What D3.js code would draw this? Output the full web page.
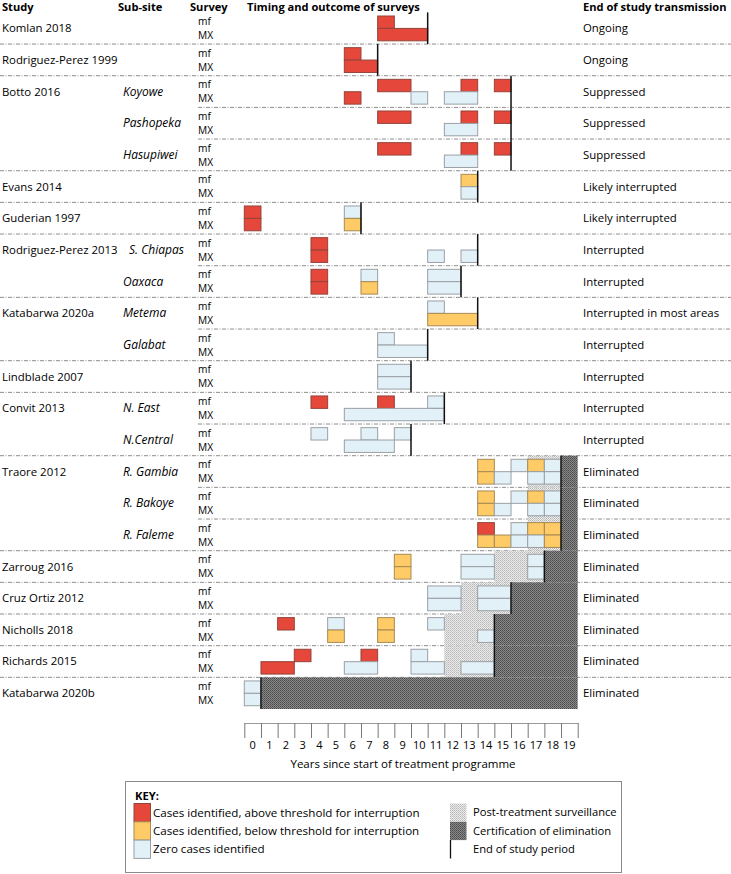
<!DOCTYPE html>
<html><head><meta charset="utf-8">
<script src="https://cdn.jsdelivr.net/npm/d3@7"></script>
<style>
html,body{margin:0;padding:0;background:#fff;}
svg{display:block;font-family:"Open Sans",sans-serif;}
</style></head>
<body><div id="chart"></div>
<script>
// ---------- DATA ----------
const studyLabels = ["Komlan 2018","Rodriguez-Perez 1999","Botto 2016","","","Evans 2014","Guderian 1997","Rodriguez-Perez 2013","","Katabarwa 2020a","","Lindblade 2007","Convit 2013","","Traore 2012","","","Zarroug 2016","Cruz Ortiz 2012","Nicholls 2018","Richards 2015","Katabarwa 2020b"];
const subSites = ["","","Koyowe","Pashopeka","Hasupiwei","","","S. Chiapas","Oaxaca","Metema","Galabat","","N. East","N.Central","R. Gambia","R. Bakoye","R. Faleme","","","","",""];
const outcomes = ["Ongoing","Ongoing","Suppressed","Suppressed","Suppressed","Likely interrupted","Likely interrupted","Interrupted","Interrupted","Interrupted in most areas","Interrupted","Interrupted","Interrupted","Interrupted","Eliminated","Eliminated","Eliminated","Eliminated","Eliminated","Eliminated","Eliminated","Eliminated"];
// year (boundary) at which study period ends, per row
const studyEnd = [11,8,16,16,16,14,7,14,13,14,11,10,12,10,19,19,19,18,16,15,15,1];
// surveys: [row, survey, startYear, endYear, result]
const surveys = [
 [0,"mf",8,9,"above"],[0,"MX",8,11,"above"],
 [1,"mf",6,7,"above"],[1,"MX",6,8,"above"],
 [2,"mf",8,10,"above"],[2,"mf",13,14,"above"],[2,"mf",15,16,"above"],[2,"MX",6,7,"above"],[2,"MX",10,11,"zero"],[2,"MX",12,14,"zero"],
 [3,"mf",8,10,"above"],[3,"mf",13,14,"above"],[3,"mf",15,16,"above"],[3,"MX",12,14,"zero"],
 [4,"mf",8,10,"above"],[4,"mf",13,14,"above"],[4,"mf",15,16,"above"],[4,"MX",12,14,"zero"],
 [5,"mf",13,14,"below"],[5,"MX",13,14,"zero"],
 [6,"mf",0,1,"above"],[6,"MX",0,1,"above"],[6,"mf",6,7,"zero"],[6,"MX",6,7,"below"],
 [7,"mf",4,5,"above"],[7,"MX",4,5,"above"],[7,"MX",11,12,"zero"],[7,"MX",13,14,"zero"],
 [8,"mf",4,5,"above"],[8,"MX",4,5,"above"],[8,"mf",7,8,"zero"],[8,"MX",7,8,"below"],[8,"mf",11,13,"zero"],[8,"MX",11,13,"zero"],
 [9,"mf",11,12,"zero"],[9,"MX",11,14,"below"],
 [10,"mf",8,9,"zero"],[10,"MX",8,11,"zero"],
 [11,"mf",8,10,"zero"],[11,"MX",8,10,"zero"],
 [12,"mf",4,5,"above"],[12,"mf",8,9,"above"],[12,"mf",11,12,"zero"],[12,"MX",6,12,"zero"],
 [13,"mf",4,5,"zero"],[13,"mf",7,8,"zero"],[13,"mf",9,10,"zero"],[13,"MX",6,9,"zero"],
 [14,"mf",14,15,"below"],[14,"mf",16,17,"zero"],[14,"mf",17,18,"below"],[14,"mf",18,19,"zero"],
 [14,"MX",14,15,"below"],[14,"MX",15,16,"zero"],[14,"MX",17,18,"zero"],[14,"MX",18,19,"zero"],
 [15,"mf",14,15,"below"],[15,"mf",16,17,"zero"],[15,"mf",17,18,"below"],[15,"mf",18,19,"zero"],
 [15,"MX",14,15,"below"],[15,"MX",15,16,"zero"],[15,"MX",17,18,"zero"],[15,"MX",18,19,"zero"],
 [16,"mf",14,15,"above"],[16,"mf",16,17,"zero"],[16,"mf",17,18,"below"],[16,"mf",18,19,"below"],
 [16,"MX",14,15,"below"],[16,"MX",15,16,"below"],[16,"MX",16,17,"zero"],[16,"MX",17,18,"zero"],[16,"MX",18,19,"below"],
 [17,"mf",9,10,"below"],[17,"MX",9,10,"below"],[17,"mf",13,15,"zero"],[17,"MX",13,15,"zero"],[17,"mf",17,18,"zero"],[17,"MX",17,18,"zero"],
 [18,"mf",11,13,"zero"],[18,"MX",11,13,"zero"],[18,"mf",14,16,"zero"],[18,"MX",14,16,"zero"],
 [19,"mf",2,3,"above"],[19,"mf",5,6,"zero"],[19,"MX",5,6,"below"],[19,"mf",8,9,"below"],[19,"MX",8,9,"below"],[19,"mf",11,12,"zero"],[19,"MX",14,15,"zero"],
 [20,"mf",3,4,"above"],[20,"MX",1,3,"above"],[20,"mf",7,8,"above"],[20,"MX",6,8,"zero"],[20,"mf",10,11,"zero"],[20,"MX",10,12,"zero"],[20,"MX",13,15,"zero"],
 [21,"mf",0,1,"zero"],[21,"MX",0,1,"zero"]
];
// post-treatment surveillance: [row, start, end]
const surveillance = [[14,17,19],[15,17,19],[16,17,19],[17,15,18],[18,13,16],[19,12,15],[20,12,15]];
// certification of elimination: [row, start] (until end of axis)
const certification = [[14,19],[15,19],[16,19],[17,18],[18,16],[19,15],[20,15],[21,1]];
const yearTicks = d3.range(0,20);
const surveyTypes = ["mf","MX"];
const headers = ["Study","Sub-site","Survey","Timing and outcome of surveys","End of study transmission"];
const keyLabels = ["Cases identified, above threshold for interruption","Cases identified, below threshold for interruption","Zero cases identified"];
const keyLabels2 = ["Post-treatment surveillance","Certification of elimination","End of study period"];

// ---------- STYLE ----------
const W = 731, H = 874;
const fill = {above:"#E5483A", below:"#FFCB66", zero:"#E2F1F8"};
const stroke = {above:"#94433a", below:"#a68a55", zero:"#9a9fa3"};

const svg = d3.select("#chart").append("svg").attr("width",W).attr("height",H);
const defs = svg.append("defs");
const p1 = defs.append("pattern").attr("id","pts").attr("width",2).attr("height",2).attr("patternUnits","userSpaceOnUse");
p1.append("rect").attr("width",2).attr("height",2).attr("fill","#ececec");
p1.append("rect").attr("width",1).attr("height",1).attr("fill","#b5b5b5");
p1.append("rect").attr("x",1).attr("y",1).attr("width",1).attr("height",1).attr("fill","#c8c8c8");
const p2 = defs.append("pattern").attr("id","cert").attr("width",2).attr("height",2).attr("patternUnits","userSpaceOnUse");
p2.append("rect").attr("width",2).attr("height",2).attr("fill","#8a8a8a");
p2.append("rect").attr("width",1).attr("height",1).attr("fill","#4a4a4a");
p2.append("rect").attr("x",1).attr("y",1).attr("width",1).attr("height",1).attr("fill","#5a5a5a");

const nRows = studyLabels.length;
const x = d3.scaleLinear().domain([0,20]).range([244.3,577.7]);
const y = d3.scaleLinear().domain([0,nRows]).range([12.4,709]);
const rowH = y(1)-y(0);
const FS = 11.4;
const TXT = "#000";

// headers
const hx = [2,118,190,247,583];
svg.selectAll("text.hdr").data(headers).join("text").attr("class","hdr")
  .attr("x",(d,i)=>hx[i]).attr("y",7).attr("dy","0.35em")
  .attr("font-size",11.1).attr("font-weight","bold").attr("fill",TXT).text(d=>d);

// separators
const seps = d3.range(1,nRows);
svg.selectAll("line.sep").data(seps).join("line").attr("class","sep")
  .attr("x1",i=>studyLabels[i] ? 0 : 198).attr("x2",W)
  .attr("y1",i=>y(i)).attr("y2",i=>y(i))
  .attr("stroke","#8d8d8d").attr("stroke-width",1).attr("stroke-dasharray","4,1.5,1,1.5");

// surveillance & certification areas
svg.selectAll("rect.pts").data(surveillance).join("rect").attr("class","pts")
  .attr("x",d=>x(d[1])).attr("width",d=>x(d[2])-x(d[1]))
  .attr("y",d=>y(d[0])).attr("height",rowH).attr("fill","url(#pts)");
svg.selectAll("rect.cert").data(certification).join("rect").attr("class","cert")
  .attr("x",d=>x(d[1])).attr("width",d=>x(20)-x(d[1]))
  .attr("y",d=>y(d[0])).attr("height",rowH).attr("fill","url(#cert)");

// survey bars
const barTop = 3.6, barH = 12.4;
svg.selectAll("rect.bar").data(surveys).join("rect").attr("class","bar")
  .attr("x",d=>x(d[2])).attr("width",d=>x(d[3])-x(d[2]))
  .attr("y",d=>y(d[0])+barTop+(d[1]==="MX"?barH:0)).attr("height",barH)
  .attr("fill",d=>fill[d[4]]).attr("stroke",d=>stroke[d[4]]).attr("stroke-width",1);

// end of study lines
svg.selectAll("line.end").data(studyEnd).join("line").attr("class","end")
  .attr("x1",d=>x(d)).attr("x2",d=>x(d))
  .attr("y1",(d,i)=>y(i)).attr("y2",(d,i)=>y(i+1))
  .attr("stroke","#111").attr("stroke-width",1.5);

// row texts
const rowsIdx = d3.range(nRows);
svg.selectAll("text.study").data(rowsIdx.filter(i=>studyLabels[i])).join("text").attr("class","study")
  .attr("x",2).attr("y",i=>y(i)+rowH/2).attr("dy","0.35em").attr("font-size",FS).attr("fill",TXT)
  .text(i=>studyLabels[i]);
svg.selectAll("text.site").data(rowsIdx.filter(i=>subSites[i])).join("text").attr("class","site")
  .attr("x",i=> i===7 ? 129 : 123).attr("y",i=>y(i)+rowH/2).attr("dy","0.35em").attr("font-size",12)
  .attr("font-style","italic").attr("fill",TXT).text(i=>subSites[i]);
svg.selectAll("text.sv").data(rowsIdx.flatMap(i=>surveyTypes.map((s,k)=>({i,s,k})))).join("text").attr("class","sv")
  .attr("x",198).attr("y",d=>y(d.i)+9+d.k*14).attr("dy","0.35em")
  .attr("font-size",10.2).attr("fill",TXT).text(d=>d.s);
svg.selectAll("text.out").data(rowsIdx).join("text").attr("class","out")
  .attr("x",583).attr("y",i=>y(i)+rowH/2).attr("dy","0.35em").attr("font-size",FS).attr("fill",TXT)
  .text(i=>outcomes[i]);

// axis
const axisG = svg.append("g").attr("transform","translate(0,723)")
  .call(d3.axisBottom(x).tickValues(d3.range(0,21)).tickSize(15).tickSizeOuter(0).tickFormat(""));
axisG.select(".domain").attr("stroke","#999");
axisG.selectAll(".tick line").attr("stroke","#777");
const xb = d3.scaleBand().domain(yearTicks).range([x(0),x(20)]);
const lab = svg.append("g").attr("transform","translate(0,741)")
  .call(d3.axisBottom(xb).tickSize(0).tickPadding(0));
lab.select(".domain").remove();
lab.selectAll("text").attr("font-size",11).attr("fill",TXT).attr("font-family","Open Sans, sans-serif");
svg.append("text").attr("x",403).attr("y",764).attr("dy","0.35em").attr("text-anchor","middle")
  .attr("font-size",11.5).attr("fill",TXT).text("Years since start of treatment programme");

// key
const key = svg.append("g");
key.append("rect").attr("x",125.5).attr("y",781.5).attr("width",496).attr("height",91)
  .attr("fill","none").attr("stroke","#8a8a8a");
key.append("text").attr("x",135).attr("y",796).attr("dy","0.35em").attr("font-size",11.2).attr("font-weight","bold").attr("fill",TXT).text("KEY:");
const kres = ["above","below","zero"];
key.selectAll("rect.k").data(kres).join("rect").attr("class","k")
  .attr("x",134).attr("y",(d,i)=>803.5+i*18.3).attr("width",16.5).attr("height",18.3)
  .attr("fill",d=>fill[d]).attr("stroke",d=>stroke[d]);
key.selectAll("text.k").data(keyLabels).join("text").attr("class","k")
  .attr("x",153).attr("y",(d,i)=>812.5+i*18.3).attr("dy","0.35em").attr("font-size",11.6).attr("fill",TXT).text(d=>d);
key.append("rect").attr("x",450).attr("y",803.5).attr("width",16.5).attr("height",18.3).attr("fill","url(#pts)");
key.append("rect").attr("x",450).attr("y",821.8).attr("width",16.5).attr("height",18.3).attr("fill","url(#cert)");
key.append("line").attr("x1",450.5).attr("x2",450.5).attr("y1",840).attr("y2",858.5).attr("stroke","#111").attr("stroke-width",1.3);
key.selectAll("text.k2").data(keyLabels2).join("text").attr("class","k2")
  .attr("x",473).attr("y",(d,i)=>812.5+i*18.3).attr("dy","0.35em").attr("font-size",11.2).attr("fill",TXT).text(d=>d);
</script></body></html>
